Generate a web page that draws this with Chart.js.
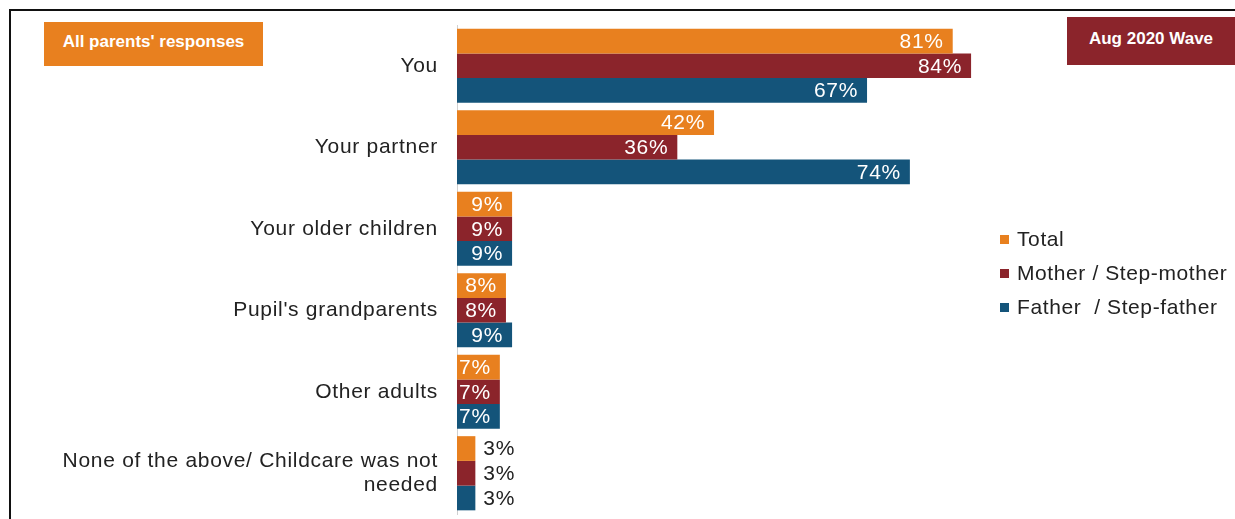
<!DOCTYPE html>
<html>
<head>
<meta charset="utf-8">
<script src="https://cdn.jsdelivr.net/npm/chart.js@4"></script>
<style>
  html, body { margin: 0; padding: 0; background: #fff; }
  #wrap { position: relative; width: 1235px; height: 519px; overflow: hidden; }
  #frame { position: absolute; left: 9px; top: 9px; width: 1240px; height: 520px;
           border-top: 2px solid #111; border-left: 2px solid #111; }
  .tag { position: absolute; color: #fff; font-family: "Liberation Sans", Arial, sans-serif;
         font-weight: bold; font-size: 17px; display: flex; align-items: center; justify-content: center;
         box-sizing: border-box; padding-bottom: 5px; }
  #tagL { left: 44px; top: 22px; width: 219px; height: 44px; background: #E8801F; }
  #tagR { left: 1067px; top: 17px; width: 168px; height: 48px; background: #8B242B; }
  #legend { position: absolute; left: 1000px; top: 225px; font-family: "Liberation Sans", Arial, sans-serif;
            font-size: 21px; color: #222; letter-spacing: 0.6px; }
  #legend div { height: 34px; line-height: 28px; white-space: pre; }
  #legend span { display: inline-block; width: 9px; height: 9px; margin-right: 8px; vertical-align: 2px; }
  canvas { position: absolute; left: 0; top: 0; }
</style>
</head>
<body>
<div id="wrap">
  <div id="frame"></div>
  <canvas id="chart" width="1235" height="519"></canvas>
  <div class="tag" id="tagL">All parents' responses</div>
  <div class="tag" id="tagR">Aug 2020 Wave</div>
  <div id="legend"></div>
</div>
<script>
// 데이터
var categories = ['You', 'Your partner', 'Your older children', "Pupil's grandparents", 'Other adults',
  ['None of the above/ Childcare was not', 'needed']];
var seriesNames = ['Total', 'Mother / Step-mother', 'Father  / Step-father'];
var total = [81, 42, 9, 8, 7, 3];
var mother = [84, 36, 9, 8, 7, 3];
var father = [67, 74, 9, 9, 7, 3];
var colors = ['#E8801F', '#8B242B', '#14547A'];
var fontFamily = '"Liberation Sans", Arial, sans-serif';

// 범례
var legendBox = document.getElementById('legend');
seriesNames.forEach(function(name, i) {
  var row = document.createElement('div');
  row.innerHTML = '<span style="background:' + colors[i] + '"></span>' + name;
  legendBox.appendChild(row);
});

// 글자 간격 (원본 폰트가 조금 넓음)
var spacing = {
  id: 'spacing',
  beforeDraw: function(chart) {
    chart.ctx.letterSpacing = '0.7px';
  }
};

// 막대 값 라벨
var valueLabels = {
  id: 'valueLabels',
  afterDatasetsDraw: function(chart) {
    var ctx = chart.ctx;
    ctx.save();
    ctx.font = '21px ' + fontFamily;
    ctx.textBaseline = 'middle';
    chart.data.datasets.forEach(function(ds, di) {
      var meta = chart.getDatasetMeta(di);
      meta.data.forEach(function(bar, i) {
        var text = ds.data[i] + '%';
        var w = ctx.measureText(text).width;
        var barLen = bar.x - bar.base;
        if (barLen < w + 2) {
          ctx.fillStyle = '#222';
          ctx.textAlign = 'left';
          ctx.fillText(text, bar.x + 8, bar.y + 1);
        } else {
          ctx.fillStyle = '#fff';
          ctx.textAlign = 'right';
          var x = Math.max(bar.x - 9, bar.base + 2 + w);
          ctx.fillText(text, x, bar.y + 1);
        }
      });
    });
    ctx.restore();
  }
};

var context = document.getElementById('chart').getContext('2d');
var chart = new Chart(context, {
  type: 'bar',
  data: {
    labels: categories,
    datasets: [
      { label: seriesNames[0], data: total, backgroundColor: colors[0] },
      { label: seriesNames[1], data: mother, backgroundColor: colors[1] },
      { label: seriesNames[2], data: father, backgroundColor: colors[2] }
    ]
  },
  options: {
    indexAxis: 'y',
    responsive: false,
    animation: false,
    datasets: { bar: { barPercentage: 1, categoryPercentage: 0.91 } },
    layout: { padding: { top: 25, bottom: 5, right: 166, left: 0 } },
    plugins: { legend: { display: false }, tooltip: { enabled: false } },
    scales: {
      x: { display: false, min: 0, max: 100 },
      y: {
        afterFit: function(scale) {
          scale.width = 457;
          scale.paddingTop = 0;
          scale.paddingBottom = 0;
        },
        grid: { display: false, drawTicks: false },
        border: { display: true, color: '#d0d0d0', width: 1 },
        ticks: {
          padding: 19,
          color: '#222',
          font: { family: fontFamily, size: 21, lineHeight: 1.15 }
        }
      }
    }
  },
  plugins: [spacing, valueLabels]
});
</script>
</body>
</html>
